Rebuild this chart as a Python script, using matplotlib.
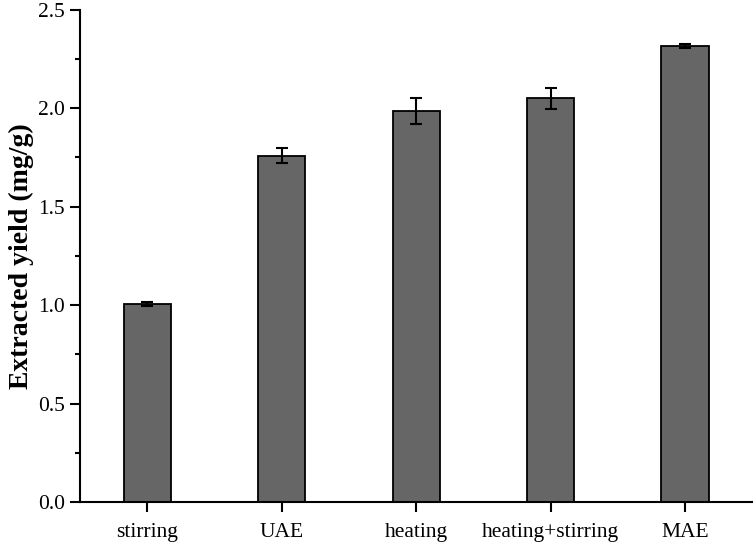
import numpy as np
import matplotlib.pyplot as plt
from matplotlib.ticker import MultipleLocator

plt.rcParams['font.family'] = ['Liberation Serif', 'DejaVu Serif']

methods = ['stirring', 'UAE', 'heating', 'heating+stirring', 'MAE']
yields = [1.006, 1.76, 1.986, 2.05, 2.315]
errors = [0.01, 0.04, 0.065, 0.055, 0.01]

fig = plt.figure(figsize=(7.56, 5.44), dpi=100)
ax = fig.add_axes([0.106, 0.077, 0.889, 0.905])

x = np.arange(len(methods))
ax.bar(x, yields, width=0.35, color='#666666', edgecolor='black', linewidth=1.3, zorder=2)
ax.errorbar(x, yields, yerr=errors, fmt='none', ecolor='black', elinewidth=1.5,
            capsize=4.5, capthick=1.5, zorder=3)

ax.set_xlim(-0.5, 4.5)
ax.set_ylim(0, 2.5)
ax.set_xticks(x)
ax.set_xticklabels(methods, fontsize=15.5)
ax.yaxis.set_major_locator(MultipleLocator(0.5))
ax.yaxis.set_minor_locator(MultipleLocator(0.25))
ax.yaxis.set_major_formatter(plt.FormatStrFormatter('%.1f'))
ax.tick_params(direction='out', width=1.5, length=7)
ax.tick_params(which='minor', direction='out', width=1.5, length=3.5)
ax.tick_params(axis='y', labelsize=15.5, pad=4)
ax.tick_params(axis='x', pad=8)
ax.set_ylabel('Extracted yield (mg/g)', fontsize=20, fontweight='bold', labelpad=3)

for side in ['top', 'right']:
    ax.spines[side].set_visible(False)
for side in ['left', 'bottom']:
    ax.spines[side].set_linewidth(1.5)

fig.savefig('out.png', dpi=100)
